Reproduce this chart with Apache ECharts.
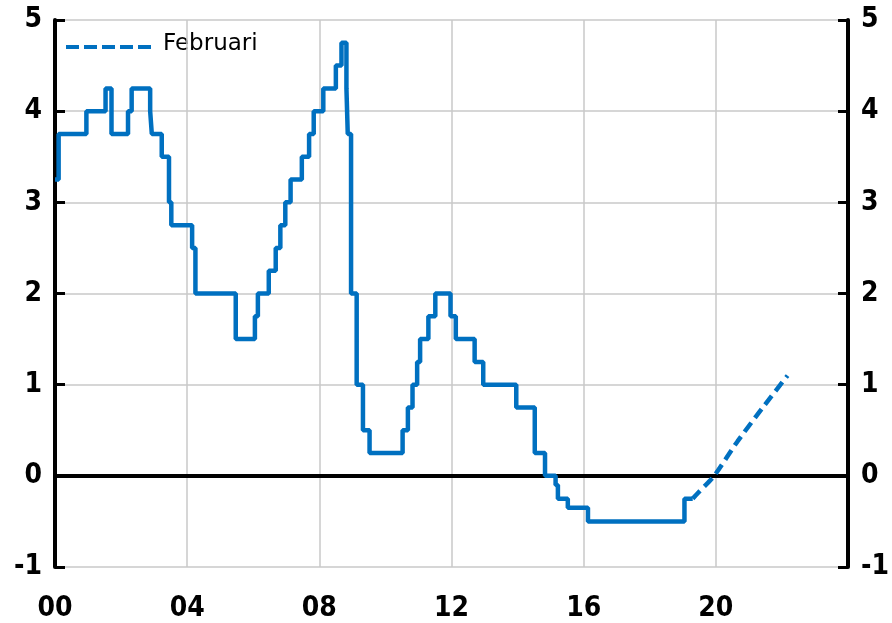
<!DOCTYPE html>
<html>
<head>
    <meta charset="utf-8" />
    <title>Reporänta</title>
    <style>
        html, body { margin: 0; padding: 0; background: #fff; }
        #chart { width: 892px; height: 623px; }
    </style>
</head>
<body>
    <div id="chart"></div>
    <script src="https://cdn.jsdelivr.net/npm/echarts@6/dist/echarts.min.js"></script>
    <script>
        // datum (decimalår) då räntan ändrades, och ny nivå
        var rateDates = [2000.00, 2000.11, 2000.95, 2001.53, 2001.71, 2002.21, 2002.32, 2002.88, 2002.93, 2003.23,
            2003.45, 2003.52, 2004.15, 2004.25, 2005.47, 2006.05, 2006.14, 2006.47, 2006.68, 2006.82,
            2006.97, 2007.13, 2007.47, 2007.69, 2007.83, 2008.12, 2008.50, 2008.67, 2008.82, 2008.86,
            2008.96, 2009.13, 2009.32, 2009.52, 2010.52, 2010.68, 2010.82, 2010.96, 2011.05, 2011.30,
            2011.51, 2011.97, 2012.13, 2012.70, 2012.96, 2013.96, 2014.52, 2014.83, 2015.15, 2015.22,
            2015.52, 2016.13, 2019.05, 2019.30];
        var rateValues = [3.25, 3.75, 4.00, 4.25, 3.75, 4.00, 4.25, 4.00, 3.75, 3.50,
            3.00, 2.75, 2.50, 2.00, 1.50, 1.75, 2.00, 2.25, 2.50, 2.75,
            3.00, 3.25, 3.50, 3.75, 4.00, 4.25, 4.50, 4.75, 4.25, 3.75,
            2.00, 1.00, 0.50, 0.25, 0.50, 0.75, 1.00, 1.25, 1.50, 1.75,
            2.00, 1.75, 1.50, 1.25, 1.00, 0.75, 0.25, 0.00, -0.10, -0.25,
            -0.35, -0.50, -0.25, -0.25];
        // prognos, februari
        var fcDates = [2019.30, 2019.48, 2019.95, 2020.66, 2021.40, 2022.17];
        var fcValues = [-0.25, -0.18, 0.00, 0.38, 0.74, 1.10];
        var fcName = 'Februari';

        var yTicks = { min: -1, max: 5, interval: 1 };
        var xTicks = { min: 2000, max: 2024, interval: 4 };

        var BLUE = '#0070c0',
            FONT = '"Liberation Sans Narrow", "DejaVu Sans Condensed", sans-serif',
            DASH = [11, 6];

        function pairs(xs, ys) {
            var out = [];
            for (var i = 0; i < xs.length; i++) out.push([xs[i], ys[i]]);
            return out;
        }

        function yAxisOpt(pos) {
            return {
                type: 'value',
                position: pos,
                min: yTicks.min,
                max: yTicks.max,
                interval: yTicks.interval,
                axisLine: { show: true, lineStyle: { color: '#000', width: 4 } },
                axisTick: { show: true, inside: true, length: 10, lineStyle: { color: '#000', width: 3 } },
                axisLabel: { color: '#000', fontFamily: FONT, fontWeight: 'bold', fontSize: 28, margin: 13 },
                splitLine: { show: pos === 'left', lineStyle: { color: '#c8c8c8', width: 1.5 } }
            };
        }

        var myChart = echarts.init(document.getElementById('chart'));
        var option = {
            backgroundColor: '#fff',
            animation: false,
            grid: { left: 55, right: 40, top: 20, bottom: 54 },
            // teckenförklaring ritad för hand
            graphic: [
                {
                    type: 'line',
                    shape: { x1: 66, y1: 47, x2: 152, y2: 47 },
                    style: { stroke: BLUE, lineWidth: 4, lineDash: [13, 5] }
                },
                {
                    type: 'text',
                    left: 163,
                    top: 33,
                    style: { text: fcName, fill: '#000', font: '23px "DejaVu Sans"' }
                }
            ],
            xAxis: {
                type: 'value',
                min: xTicks.min,
                max: xTicks.max,
                interval: xTicks.interval,
                axisLine: { show: false, onZero: false },
                axisTick: { show: false },
                axisLabel: {
                    color: '#000', fontFamily: FONT, fontWeight: 'bold', fontSize: 28, margin: 28,
                    formatter: function (v) { return v === xTicks.max ? '' : String(v).slice(2); }
                },
                splitLine: { show: true, lineStyle: { color: '#c8c8c8', width: 1.5 } }
            },
            yAxis: [yAxisOpt('left'), yAxisOpt('right')],
            series: [
                {
                    name: 'Reporänta',
                    type: 'line',
                    step: 'end',
                    symbol: 'none',
                    data: pairs(rateDates, rateValues),
                    lineStyle: { color: BLUE, width: 4.5 },
                    z: 3,
                    markLine: {
                        silent: true,
                        symbol: 'none',
                        label: { show: false },
                        lineStyle: { color: '#000', width: 4, type: 'solid' },
                        data: [{ yAxis: 0 }],
                        z: 2
                    }
                },
                {
                    name: fcName,
                    type: 'line',
                    symbol: 'none',
                    smooth: 0.2,
                    data: pairs(fcDates, fcValues),
                    lineStyle: { color: BLUE, width: 4.5, type: DASH },
                    z: 3
                }
            ]
        };
        myChart.setOption(option);
    </script>
</body>
</html>
